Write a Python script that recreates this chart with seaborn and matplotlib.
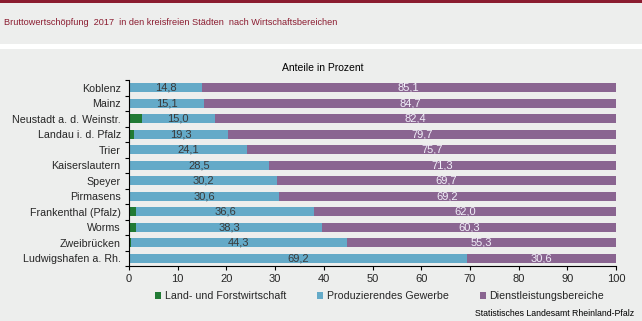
import matplotlib
matplotlib.use("Agg")
import matplotlib.pyplot as plt
from matplotlib.patches import Patch, Rectangle
from matplotlib.ticker import FixedLocator
import numpy as np
import pandas as pd
import seaborn as sns

# Gross value added 2017 by sector, shares in percent
cities = ["Koblenz", "Mainz", "Neustadt a. d. Weinstr.", "Landau i. d. Pfalz", "Trier",
          "Kaiserslautern", "Speyer", "Pirmasens", "Frankenthal (Pfalz)", "Worms",
          "Zweibrücken", "Ludwigshafen a. Rh."]
land_forst = [0.1, 0.2, 2.6, 1.0, 0.2, 0.2, 0.1, 0.2, 1.4, 1.4, 0.4, 0.2]
produzierend = [14.8, 15.1, 15.0, 19.3, 24.1, 28.5, 30.2, 30.6, 36.6, 38.3, 44.3, 69.2]
dienstleistung = [85.1, 84.7, 82.4, 79.7, 75.7, 71.3, 69.7, 69.2, 62.0, 60.3, 55.3, 30.6]
series_names = ["Land- und Forstwirtschaft", "Produzierendes Gewerbe", "Dienstleistungsbereiche"]
x_ticks = list(range(0, 101, 10))

colors = ["#217A34", "#64AAC8", "#8A6591"]
bg = "#EDEEED"

sns.set_style("ticks")
plt.rcParams["font.family"] = ["Liberation Sans", "DejaVu Sans"]

df = pd.DataFrame({"Stadt": cities, "lf": land_forst, "pg": produzierend, "dl": dienstleistung})
df["cum_pg"] = df["lf"] + df["pg"]
df["cum_dl"] = df["cum_pg"] + df["dl"]

fig = plt.figure(figsize=(6.42, 3.21), dpi=100, facecolor=bg)
ax = fig.add_axes([129 / 642, 1 - 266 / 321, (616 - 129) / 642, (266 - 80) / 321])
ax.set_facecolor(bg)

# layered cumulative bars give a stacked look
for col, c in zip(["cum_dl", "cum_pg", "lf"], colors[::-1]):
    sns.barplot(data=df, x=col, y="Stadt", orient="h", color=c, width=0.6,
                saturation=1, ax=ax, linewidth=0)

for i, row in df.iterrows():
    ax.text(row["lf"] + row["pg"] / 2, i, f"{row['pg']:.1f}".replace(".", ","),
            ha="center", va="center", fontsize=8, color="#3A3A3A")
    ax.text(row["cum_pg"] + row["dl"] / 2, i, f"{row['dl']:.1f}".replace(".", ","),
            ha="center", va="center", fontsize=8, color="#F2F0FA")

ax.set_xlim(0, 100)
ax.set_ylim(len(cities) - 0.5, -0.5)
ax.set_xticks(x_ticks)
ax.set_xlabel("")
ax.set_ylabel("")
ax.tick_params(axis="x", length=3, width=0.8, color="black", labelsize=8, pad=3)
ax.tick_params(axis="y", which="major", length=0, labelsize=7.7, pad=6)
ax.yaxis.set_minor_locator(FixedLocator(np.arange(-0.5, len(cities), 1.0)))
ax.tick_params(axis="y", which="minor", length=3, width=0.8, color="black")
sns.despine(ax=ax, top=True, right=True)
for s in ["left", "bottom"]:
    ax.spines[s].set_color("black")
    ax.spines[s].set_linewidth(0.8)

# header band
fig.add_artist(Rectangle((0, 1 - 2.5 / 321), 1, 2.5 / 321, transform=fig.transFigure,
                         color="#8B1C30", lw=0))
fig.add_artist(Rectangle((0, 1 - 49 / 321), 1, 5 / 321, transform=fig.transFigure,
                         color="white", lw=0))
fig.text(4 / 642, 1 - 22.5 / 321,
         "Bruttowertschöpfung  2017  in den kreisfreien Städten  nach Wirtschaftsbereichen",
         fontsize=6.6, color="#8B1C30", va="center", ha="left")
fig.text(323 / 642, 1 - 68 / 321, "Anteile in Prozent", fontsize=7.5, color="black",
         ha="center", va="center")

handles = [Patch(facecolor=c, edgecolor="none") for c in colors]
fig.legend(handles, series_names, loc="center left", bbox_to_anchor=(155 / 642, 1 - 296 / 321),
           ncol=3, frameon=False, fontsize=7.7, handlelength=0.6, handleheight=0.6,
           handletextpad=0.3, columnspacing=2.9, borderaxespad=0, borderpad=0)

fig.text(634 / 642, 1 - 313 / 321, "Statistisches Landesamt Rheinland-Pfalz",
         fontsize=6.3, ha="right", va="center", color="black")

fig.savefig("out.png", dpi=100, facecolor=bg)
